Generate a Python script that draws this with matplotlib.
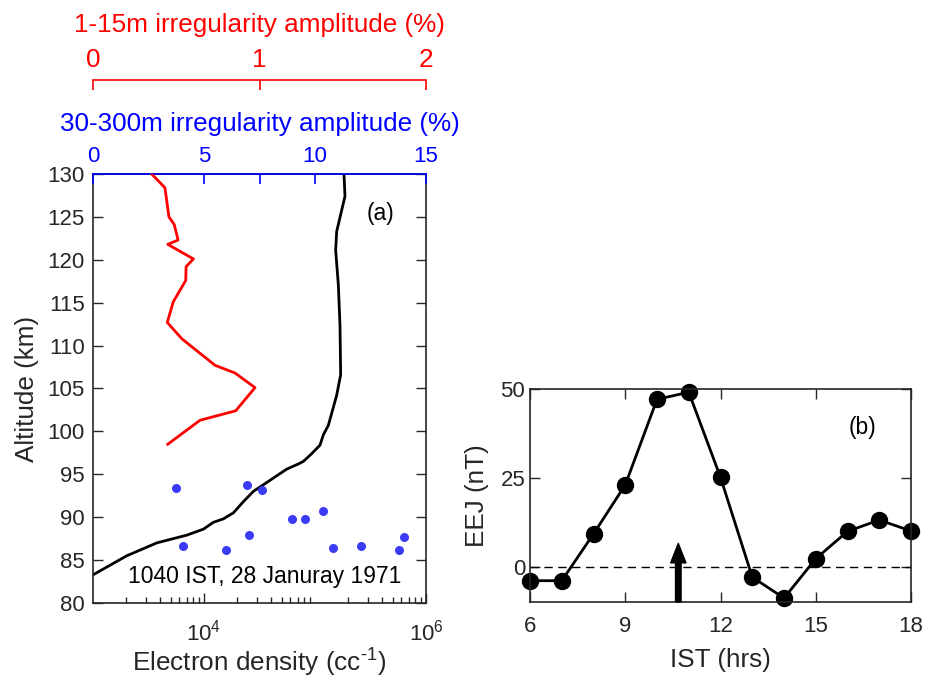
import matplotlib
matplotlib.use('Agg')
import matplotlib.pyplot as plt
import numpy as np

plt.rcParams['font.family'] = ['Liberation Sans', 'DejaVu Sans']
plt.rcParams['mathtext.fontset'] = 'custom'
plt.rcParams['mathtext.rm'] = 'Liberation Sans'
plt.rcParams['mathtext.it'] = 'Liberation Sans:italic'
plt.rcParams['font.size'] = 16
plt.rcParams['axes.labelsize'] = 18.8
plt.rcParams['text.color'] = '#262626'
plt.rcParams['axes.labelcolor'] = '#262626'
plt.rcParams['xtick.color'] = '#262626'
plt.rcParams['ytick.color'] = '#262626'
plt.rcParams['xtick.labelsize'] = 16
plt.rcParams['ytick.labelsize'] = 16

# electron density profile (black)
ne_alt = [130, 127.4, 123.3, 121.1, 117.1, 112.4, 106.6, 104.2, 100.7, 99.6, 98.4, 97.4, 96.5,
          96.2, 95.6, 94.3, 93.0, 91.8, 90.5, 89.8, 89.4, 88.6, 87.9, 87.5, 87.0, 85.5, 83.3]
ne_log = [5.261, 5.270, 5.195, 5.186, 5.21, 5.225, 5.231, 5.195, 5.12, 5.075, 5.045, 4.97, 4.895,
          4.85, 4.745, 4.595, 4.444, 4.354, 4.264, 4.174, 4.084, 3.994, 3.844, 3.723, 3.574, 3.304, 3.003]
ne = [10 ** v for v in ne_log]

# 1-15 m irregularity amplitude (red)
amp15_alt = [130, 128.4, 125.0, 124.1, 122.3, 121.8, 120.1, 119.2, 117.6, 115.1, 112.7, 110.8,
             107.7, 106.8, 105.1, 102.4, 101.3, 98.5]
amp15 = [0.352, 0.432, 0.456, 0.488, 0.511, 0.449, 0.603, 0.559, 0.557, 0.482, 0.446, 0.533,
         0.733, 0.853, 0.973, 0.857, 0.643, 0.449]

# 30-300 m irregularity amplitude (blue dots)
amp300_alt = [93.4, 86.6, 86.2, 93.8, 87.9, 93.2, 89.8, 89.8, 90.7, 86.4, 86.6, 86.2, 87.7]
amp300 = [3.74, 4.04, 5.98, 6.95, 7.03, 7.63, 8.98, 9.56, 10.37, 10.81, 12.06, 13.78, 14.0]

# EEJ
ist = [6, 7, 8, 9, 10, 11, 12, 13, 14, 15, 16, 17, 18]
eej = [-4, -4, 9.2, 23, 47.1, 49.1, 25.1, -3, -8.9, 2.2, 9.9, 13.1, 10]

fig = plt.figure(figsize=(9.32, 6.91), dpi=100)

# ---- panel (a)
ax = fig.add_axes([0.0998, 0.1274, 0.3573, 0.6208])
ax.plot(ne, ne_alt, color='k', lw=2)
ax.set_xscale('log')
ax.set_xlim(1e3, 1e6)
ax.set_ylim(80, 130)
ax.set_xticks([1e4, 1e6])
ax.set_yticks(np.arange(80, 131, 5))
ax.tick_params(axis='y', direction='in', length=7, width=1, right=True, pad=6)
ax.tick_params(axis='x', which='major', direction='in', length=7, width=1, top=False, pad=12)
ax.tick_params(axis='x', which='minor', direction='in', length=4, width=1, top=False)
for s in ax.spines.values():
    s.set_linewidth(1.2)
    s.set_color('#262626')
ax.set_xlabel('Electron density (cc$^{\\text{-1}}$)', labelpad=1)
ax.set_ylabel('Altitude (km)', labelpad=6)
ax.text(0.516, 0.061, '1040 IST, 28 Januray 1971', transform=ax.transAxes,
        ha='center', va='center', color='k', fontsize=16.5)
ax.text(0.862, 0.909, '(a)', transform=ax.transAxes, ha='center', va='center',
        color='k', fontsize=16.5)

# blue top axis
axb = ax.twiny()
axb.plot(amp300, amp300_alt, 'o', color='#3b3bf5', ms=6.5, mec='none')
axb.set_xlim(0, 15)
axb.set_xticks([0, 5, 10, 15])
axb.set_xticks([7.5], minor=True)
axb.tick_params(axis='x', which='both', direction='in', length=7, width=1.2,
                colors='#0000ff', labelcolor='#0000ff', pad=4.8)
axb.spines['top'].set_color('#0000ff')
axb.spines['top'].set_linewidth(1.2)
for k in ['left', 'right', 'bottom']:
    axb.spines[k].set_visible(False)
axb.set_xlabel('30-300m irregularity amplitude (%)', color='#0000ff', labelpad=10.8)

# red top axis
axr = ax.twiny()
axr.plot(amp15, amp15_alt, color='#ff0000', lw=2)
axr.set_xlim(0, 2)
axr.set_xticks([0, 1, 2])
axr.spines['top'].set_position(('outward', 67.7))
axr.spines['top'].set_color('#ff0000')
axr.spines['top'].set_linewidth(1.2)
for k in ['left', 'right', 'bottom']:
    axr.spines[k].set_visible(False)
axr.tick_params(axis='x', direction='in', length=7, width=1.2,
                colors='#ff0000', labelcolor='#ff0000', pad=5.4, labelsize=18.8)
axr.set_xlabel('1-15m irregularity amplitude (%)', color='#ff0000', labelpad=11.6)

# ---- panel (b)
ax2 = fig.add_axes([0.5687, 0.1288, 0.4088, 0.3082])
ax2.axhline(0, color='k', lw=1, ls=(0, (6, 4)))
ax2.plot(ist, eej, '-o', color='k', lw=2, ms=11.5, clip_on=False)
ax2.annotate('', xy=(10.67, 6.5), xytext=(10.67, -10),
             arrowprops=dict(facecolor='k', edgecolor='k', width=4, headwidth=11, headlength=14))
ax2.set_xlim(6, 18)
ax2.set_ylim(-10, 50)
ax2.set_xticks([6, 9, 12, 15, 18])
ax2.set_yticks([0, 25, 50])
ax2.tick_params(direction='in', length=7, width=1, top=True, right=True)
ax2.tick_params(axis='x', pad=10)
for s in ax2.spines.values():
    s.set_linewidth(1.2)
    s.set_color('#262626')
ax2.set_xlabel('IST (hrs)', labelpad=8)
ax2.set_ylabel('EEJ (nT)', labelpad=8)
ax2.text(16.46, 39.3, '(b)', ha='center', va='center', color='k', fontsize=16.5)

fig.savefig('out.png', dpi=100)
